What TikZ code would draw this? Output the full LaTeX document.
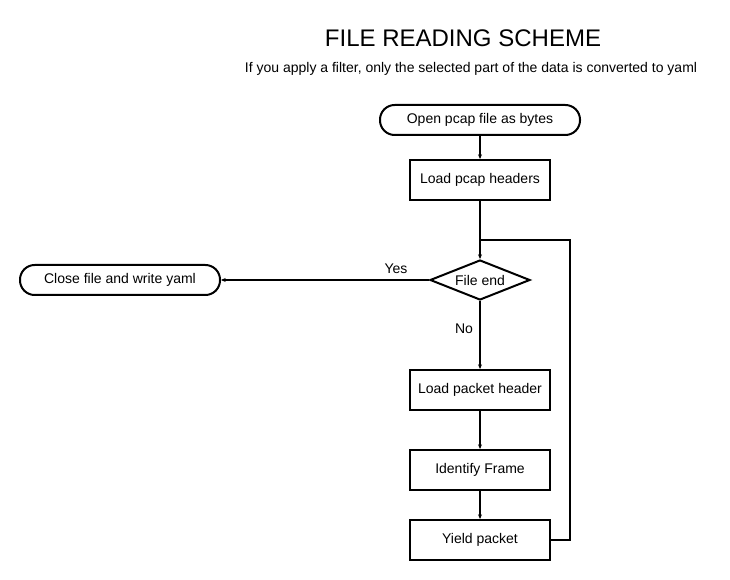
\documentclass[tikz,border=0pt]{standalone}
\usepackage{fontspec}
\setmainfont{Liberation Sans}
\usetikzlibrary{shapes.geometric,arrows.meta}
\begin{document}
\begin{tikzpicture}[x=0.75pt,y=-0.75pt,
  box/.style={draw,line width=1.5pt,minimum width=105pt,minimum height=30pt,inner sep=0pt,font=\fontsize{10.5}{12}\selectfont},
  term/.style={draw,line width=1.5pt,rounded corners=11pt,minimum width=150pt,minimum height=22.5pt,inner sep=0pt,font=\fontsize{10.5}{12}\selectfont},
  dec/.style={draw,line width=1.5pt,diamond,aspect=2.5,minimum width=75pt,minimum height=30pt,inner sep=0pt,font=\fontsize{10.5}{12}\selectfont},
  conn/.style={line width=0.9pt,-{Stealth[length=3.5pt,width=3pt]}},
  lbl/.style={font=\fontsize{10.5}{12}\selectfont}]
\useasboundingbox (0,0) rectangle (730,580);
\node[font=\fontsize{18}{20}\selectfont] (title) at (463,38) {FILE READING SCHEME};
\node[font=\fontsize{10.5}{12}\selectfont] (sub) at (471,69) {If you apply a filter, only the selected part of the data is converted to yaml};
\node[term] (open) at (480,120) {Open pcap file as bytes};
\node[box] (lph) at (480,180) {Load pcap headers};
\node[dec] (fe) at (480,280) {File end};
\node[term] (close) at (120,280) {Close file and write yaml};
\node[box] (lpk) at (480,390) {Load packet header};
\node[box] (idf) at (480,470) {Identify Frame};
\node[box] (yp) at (480,540) {Yield packet};
\coordinate (c1) at (570,540);
\coordinate (c2) at (570,240);
\coordinate (c3) at (480,240);
\draw[conn] (open) -- (lph);
\draw[conn] (lph) -- (fe);
\draw[conn] (fe) -- (close);
\draw[conn] (fe) -- (lpk);
\draw[conn] (lpk) -- (idf);
\draw[conn] (idf) -- (yp);
\draw[line width=0.9pt] (yp.east) -- (c1) -- (c2) -- (c3);
\node[lbl] (yes) at (396,269) {Yes};
\node[lbl] (no) at (464,329) {No};
\end{tikzpicture}
\end{document}
